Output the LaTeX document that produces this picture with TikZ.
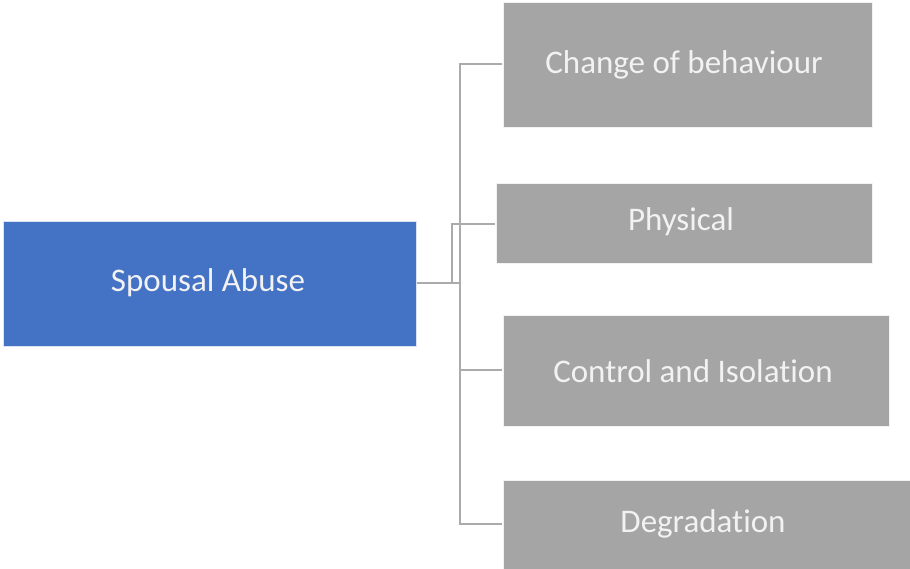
\documentclass[tikz,border=0pt]{standalone}
\usepackage{fontspec}
\setmainfont{Carlito}[Ligatures=CommonOff]
\definecolor{boxgray}{HTML}{A5A5A5}
\definecolor{boxblue}{HTML}{4472C4}
\definecolor{linegray}{HTML}{ABABAB}
\begin{document}
\begin{tikzpicture}[x=1pt,y=-1pt,
  leaf/.style={fill=boxgray,draw=white!85!boxgray,line width=0.8pt},
  root/.style={fill=boxblue,draw=white!80!boxblue,line width=0.8pt},
  txt/.style={text=white!95!black,font=\fontsize{33}{38}\selectfont,inner sep=0pt},
  conn/.style={draw=linegray,line width=2pt}]
\useasboundingbox (0,0) rectangle (910,569);
\path[root] (3,221) rectangle (416,346);
\node[txt] (sa) at (208,283) {Spousal Abuse};
\path[leaf] (503,2) rectangle (872,127);
\node[txt] (cb) at (684,65) {Change of behaviour};
\path[leaf] (496,183) rectangle (872,263);
\node[txt] (ph) at (681,222) {Physical};
\path[leaf] (503,315) rectangle (889,426);
\node[txt] (ci) at (693,371) {Control and Isolation};
\path[leaf] (503,480) rectangle (910,569);
\node[txt] (dg) at (703,524) {Degradation};
\coordinate (sr) at (417,283);
\coordinate (jn) at (460,283);
\coordinate (pj) at (452,283);
\coordinate (cbl) at (502,64);
\coordinate (phl) at (495,224);
\coordinate (cil) at (502,370);
\coordinate (dgl) at (502,524);
\draw[conn] (sr) -- (jn);
\draw[conn] (cbl) -| (jn) |- (dgl);
\draw[conn] (jn |- cil) -- (cil);
\draw[conn] (pj) |- (phl);
\end{tikzpicture}
\end{document}
